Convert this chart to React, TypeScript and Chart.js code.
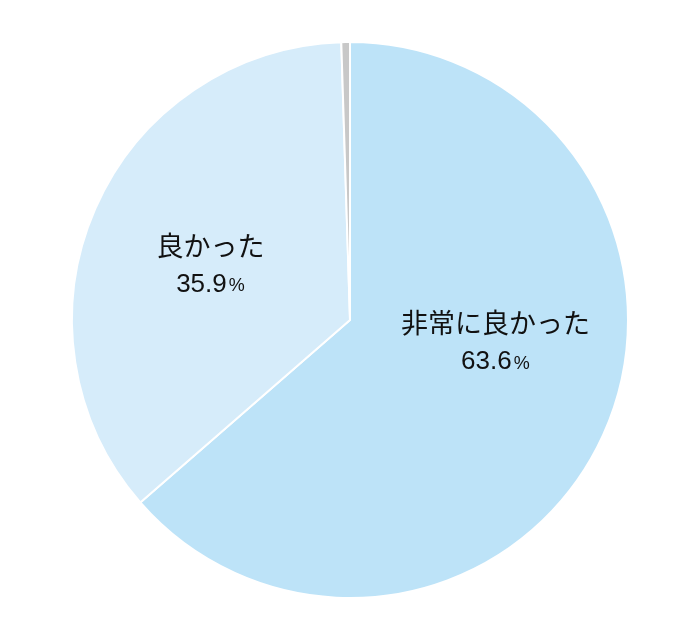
import { useEffect, useRef } from 'react';
import { Chart, registerables } from 'chart.js';

Chart.register(...registerables);

const categories = ['非常に良かった', '良かった', 'その他'];
const shares = [63.6, 35.9, 0.5];
const showLabel = [true, true, false];

const sliceColors = ['#BDE3F8', '#D6ECFA', '#C8C8C8'];
// label anchor as fraction of radius from the pie centre
const labelAnchors = [
  [0.523, 0.079],
  [-0.502, -0.2],
];

const jpFont = '"Noto Sans CJK JP", "Noto Sans", sans-serif';
const numFont = '"Liberation Sans", Arial, sans-serif';

const sliceLabels = {
  id: 'sliceLabels',
  afterDatasetsDraw(chart: Chart) {
    const { ctx } = chart;
    const meta = chart.getDatasetMeta(0);
    ctx.save();
    ctx.fillStyle = '#111111';
    ctx.textBaseline = 'middle';
    meta.data.forEach((el: any, i: number) => {
      if (!showLabel[i]) return;
      const r = el.outerRadius;
      const cx = el.x + labelAnchors[i][0] * r;
      const cy = el.y + labelAnchors[i][1] * r;

      ctx.font = `27px ${jpFont}`;
      ctx.textAlign = 'center';
      ctx.fillText(categories[i], cx, cy - 19);

      const num = shares[i].toFixed(1);
      ctx.font = `26px ${numFont}`;
      const wNum = ctx.measureText(num).width;
      ctx.font = `18px ${numFont}`;
      const wPct = ctx.measureText('%').width + 2;
      const x0 = cx - (wNum + wPct) / 2;
      ctx.textAlign = 'left';
      ctx.font = `26px ${numFont}`;
      ctx.fillText(num, x0, cy + 20);
      ctx.font = `18px ${numFont}`;
      ctx.fillText('%', x0 + wNum + 2, cy + 22);
    });
    ctx.restore();
  },
};

export default function App() {
  const canvasRef = useRef<HTMLCanvasElement>(null);
  const chartRef = useRef<Chart | null>(null);

  useEffect(() => {
    if (!canvasRef.current) return;
    if (chartRef.current) chartRef.current.destroy();

    chartRef.current = new Chart(canvasRef.current, {
      type: 'pie',
      data: {
        labels: categories,
        datasets: [
          {
            data: shares,
            backgroundColor: sliceColors,
            borderColor: '#ffffff',
            borderWidth: 2,
          },
        ],
      },
      options: {
        responsive: false,
        animation: false,
        layout: { padding: 41 },
        plugins: {
          legend: { display: false },
          tooltip: { enabled: false },
        },
      },
      plugins: [sliceLabels],
    });

    return () => { if (chartRef.current) chartRef.current.destroy(); };
  }, []);

  return (
    <div style={{ position: 'fixed', left: 0, top: 0, width: 700, height: 640, background: '#fff' }}>
      <canvas ref={canvasRef} width={700} height={640} />
    </div>
  );
}
